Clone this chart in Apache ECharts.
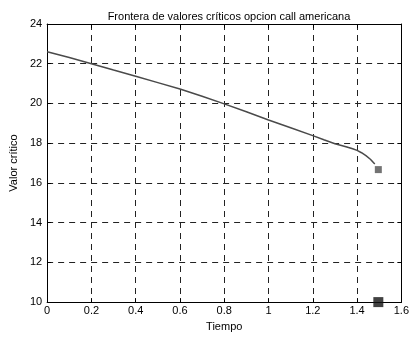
<!DOCTYPE html>
<html>
<head>
<meta charset="utf-8">
<script src="https://cdn.jsdelivr.net/npm/echarts@6/dist/echarts.min.js"></script>
<style>html,body{margin:0;padding:0;background:#fff;}#c{width:412px;height:337px;}</style>
</head>
<body>
<div id="c"></div>
<script>
var titleText = 'Frontera de valores críticos opcion call americana';
var xName = 'Tiempo';
var yName = 'Valor crítico';
var tiempo = [0, 0.1, 0.2, 0.3, 0.4, 0.5, 0.6, 0.7, 0.8, 0.9, 1.0, 1.1, 1.2, 1.25, 1.3, 1.35, 1.38, 1.4, 1.42, 1.44, 1.46, 1.48];
var valorCritico = [22.6, 22.31, 22.0, 21.68, 21.37, 21.05, 20.73, 20.36, 19.98, 19.58, 19.17, 18.78, 18.38, 18.17, 17.97, 17.82, 17.72, 17.64, 17.52, 17.37, 17.19, 16.95];
var finalPoint = [[1.496, 16.67]];
var bottomPoint = [[1.496, 10]];

var fontFam = 'Liberation Sans, Arial, sans-serif';
var chart = echarts.init(document.getElementById('c'), null, {renderer: 'canvas'});
var fmt = function (v) { return String(parseFloat(v.toFixed(1))); };
var lineData = tiempo.map(function (t, i) { return [t, valorCritico[i]]; });
var gridDash = {color: '#222', width: 1, type: [6, 5]};
chart.setOption({
  animation: false,
  backgroundColor: '#fff',
  title: {
    text: titleText, left: 224, top: 6, textAlign: 'center',
    textStyle: {fontFamily: fontFam, fontSize: 11, fontWeight: 'normal', color: '#000'}
  },
  grid: {left: 44, top: 24, width: 360, height: 284, containLabel: false},
  xAxis: [{
    type: 'value', min: 0, max: 1.6, interval: 0.2,
    name: xName, nameLocation: 'middle', nameGap: 13,
    nameTextStyle: {fontFamily: fontFam, fontSize: 11, color: '#000'},
    axisLine: {show: true, onZero: false, lineStyle: {color: '#000', width: 1}},
    axisTick: {show: true, inside: true, length: 4, lineStyle: {color: '#000'}},
    axisLabel: {formatter: fmt, margin: 3, fontFamily: fontFam, fontSize: 11, color: '#000'},
    splitLine: {show: true, lineStyle: gridDash}
  }, {
    type: 'value', min: 0, max: 1.6, interval: 0.2, position: 'top',
    axisLine: {show: true, onZero: false, lineStyle: {color: '#000', width: 1}},
    axisTick: {show: true, inside: true, length: 4, lineStyle: {color: '#000'}},
    axisLabel: {show: false}, splitLine: {show: false}
  }],
  yAxis: [{
    type: 'value', min: 10, max: 24, interval: 2,
    name: yName, nameLocation: 'middle', nameGap: 19, nameRotate: 90,
    nameTextStyle: {fontFamily: fontFam, fontSize: 11, color: '#000'},
    axisLine: {show: true, onZero: false, lineStyle: {color: '#000', width: 1}},
    axisTick: {show: true, inside: true, length: 4, lineStyle: {color: '#000'}},
    axisLabel: {margin: 5, fontFamily: fontFam, fontSize: 11, color: '#000'},
    splitLine: {show: true, lineStyle: gridDash}
  }, {
    type: 'value', min: 10, max: 24, interval: 2, position: 'right',
    axisLine: {show: true, onZero: false, lineStyle: {color: '#000', width: 1}},
    axisTick: {show: true, inside: true, length: 4, lineStyle: {color: '#000'}},
    axisLabel: {show: false}, splitLine: {show: false}
  }],
  series: [{
    type: 'line', data: lineData, showSymbol: false, smooth: false,
    lineStyle: {color: '#4a4a4a', width: 1.5}, z: 3
  }, {
    type: 'scatter', data: finalPoint, symbol: 'rect', symbolSize: 7,
    itemStyle: {color: '#505050'}, z: 4
  }, {
    type: 'scatter', data: bottomPoint, symbol: 'rect', symbolSize: 10,
    itemStyle: {color: '#111'}, z: 5, clip: false
  }]
});
</script>
</body>
</html>
